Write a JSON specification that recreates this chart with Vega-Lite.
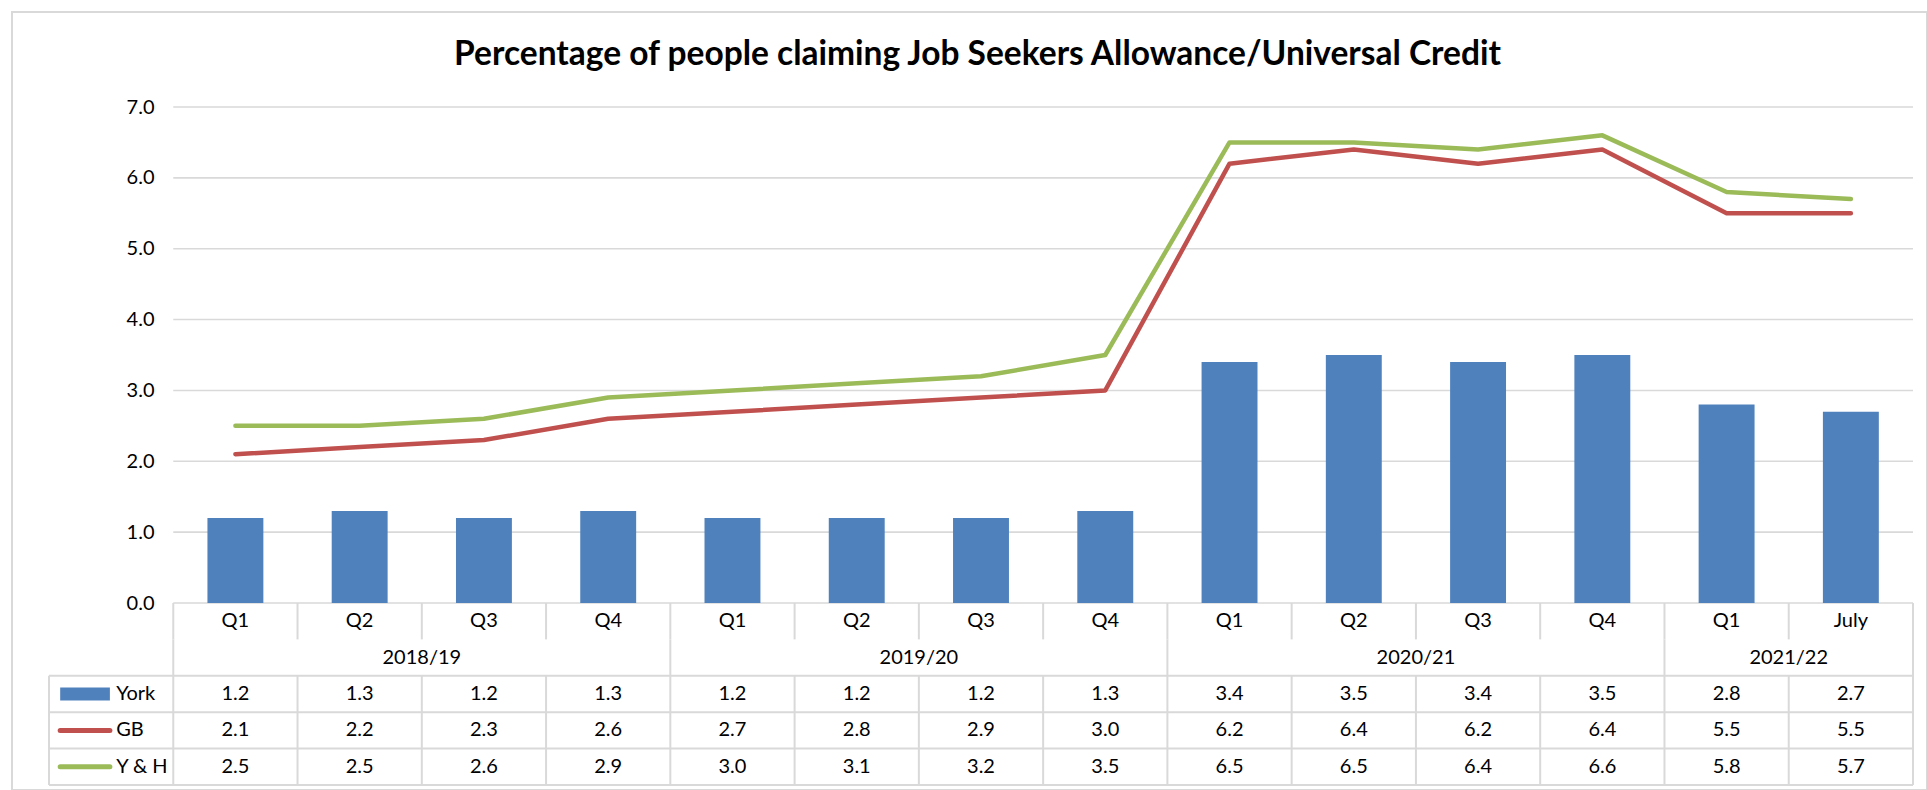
{
  "$schema": "https://vega.github.io/schema/vega-lite/v6.json",
  "width": 1915,
  "height": 778,
  "autosize": {"type": "none"},
  "padding": {"left": 12, "top": 12, "right": 0, "bottom": 0},
  "background": "white",
  "view": {"stroke": "#D9D9D9", "strokeWidth": 2},
  "config": {"font": "Lato", "text": {"font": "Lato", "fontSize": 20, "color": "black"}},
  "title": {
    "text": "Percentage of people claiming Job Seekers Allowance/Universal Credit",
    "font": "Lato", "fontSize": 33.5, "fontWeight": "bold", "color": "black",
    "anchor": "middle", "frame": "group", "offset": -86, "baseline": "alphabetic", "dx": 8
  },
  "datasets": {
    "d": [
      {"k":"2018/19 Q1","q":"Q1","York":1.2,"GB":2.1,"Y & H":2.5},
      {"k":"2018/19 Q2","q":"Q2","York":1.3,"GB":2.2,"Y & H":2.5},
      {"k":"2018/19 Q3","q":"Q3","York":1.2,"GB":2.3,"Y & H":2.6},
      {"k":"2018/19 Q4","q":"Q4","York":1.3,"GB":2.6,"Y & H":2.9},
      {"k":"2019/20 Q1","q":"Q1","York":1.2,"GB":2.7,"Y & H":3.0},
      {"k":"2019/20 Q2","q":"Q2","York":1.2,"GB":2.8,"Y & H":3.1},
      {"k":"2019/20 Q3","q":"Q3","York":1.2,"GB":2.9,"Y & H":3.2},
      {"k":"2019/20 Q4","q":"Q4","York":1.3,"GB":3.0,"Y & H":3.5},
      {"k":"2020/21 Q1","q":"Q1","York":3.4,"GB":6.2,"Y & H":6.5},
      {"k":"2020/21 Q2","q":"Q2","York":3.5,"GB":6.4,"Y & H":6.5},
      {"k":"2020/21 Q3","q":"Q3","York":3.4,"GB":6.2,"Y & H":6.4},
      {"k":"2020/21 Q4","q":"Q4","York":3.5,"GB":6.4,"Y & H":6.6},
      {"k":"2021/22 Q1","q":"Q1","York":2.8,"GB":5.5,"Y & H":5.8},
      {"k":"2021/22 July","q":"July","York":2.7,"GB":5.5,"Y & H":5.7}
    ],
    "years": [
      {"yr":"2018/19","m":"2018/19 Q3"},
      {"yr":"2019/20","m":"2019/20 Q3"},
      {"yr":"2020/21","m":"2020/21 Q3"},
      {"yr":"2021/22","m":"2021/22 July"}
    ],
    "grid": [
      {"v":0,"a":"2018/19 Q1","b":"2021/22 July"},
      {"v":1,"a":"2018/19 Q1","b":"2021/22 July"},
      {"v":2,"a":"2018/19 Q1","b":"2021/22 July"},
      {"v":3,"a":"2018/19 Q1","b":"2021/22 July"},
      {"v":4,"a":"2018/19 Q1","b":"2021/22 July"},
      {"v":5,"a":"2018/19 Q1","b":"2021/22 July"},
      {"v":6,"a":"2018/19 Q1","b":"2021/22 July"},
      {"v":7,"a":"2018/19 Q1","b":"2021/22 July"}
    ],
    "vl": [
      {"k":"2018/19 Q1","r1":"q","r2":"q"},
      {"k":"2018/19 Q2","r1":"q","r2":"q"},
      {"k":"2018/19 Q3","r1":"q","r2":"q"},
      {"k":"2018/19 Q4","r1":"q","r2":"q"},
      {"k":"2019/20 Q1","r1":"q","r2":"q"},
      {"k":"2019/20 Q2","r1":"q","r2":"q"},
      {"k":"2019/20 Q3","r1":"q","r2":"q"},
      {"k":"2019/20 Q4","r1":"q","r2":"q"},
      {"k":"2020/21 Q1","r1":"q","r2":"q"},
      {"k":"2020/21 Q2","r1":"q","r2":"q"},
      {"k":"2020/21 Q3","r1":"q","r2":"q"},
      {"k":"2020/21 Q4","r1":"q","r2":"q"},
      {"k":"2021/22 Q1","r1":"q","r2":"q"},
      {"k":"2021/22 July","r1":"q","r2":"q"},
      {"k":"2018/19 Q1","r1":"yr","r2":"yr"},
      {"k":"2019/20 Q1","r1":"yr","r2":"yr"},
      {"k":"2020/21 Q1","r1":"yr","r2":"yr"},
      {"k":"2021/22 Q1","r1":"yr","r2":"yr"},
      {"k":"legend","r1":"York","r2":"Y & H"},
      {"k":"2018/19 Q1","r1":"York","r2":"Y & H"},
      {"k":"2018/19 Q2","r1":"York","r2":"Y & H"},
      {"k":"2018/19 Q3","r1":"York","r2":"Y & H"},
      {"k":"2018/19 Q4","r1":"York","r2":"Y & H"},
      {"k":"2019/20 Q1","r1":"York","r2":"Y & H"},
      {"k":"2019/20 Q2","r1":"York","r2":"Y & H"},
      {"k":"2019/20 Q3","r1":"York","r2":"Y & H"},
      {"k":"2019/20 Q4","r1":"York","r2":"Y & H"},
      {"k":"2020/21 Q1","r1":"York","r2":"Y & H"},
      {"k":"2020/21 Q2","r1":"York","r2":"Y & H"},
      {"k":"2020/21 Q3","r1":"York","r2":"Y & H"},
      {"k":"2020/21 Q4","r1":"York","r2":"Y & H"},
      {"k":"2021/22 Q1","r1":"York","r2":"Y & H"},
      {"k":"2021/22 July","r1":"York","r2":"Y & H"}
    ],
    "edge": [{"k":"2021/22 July","r1":"q","r2":"Y & H"}],
    "hl": [
      {"r":"York","a":"legend","b":"2021/22 July"},
      {"r":"GB","a":"legend","b":"2021/22 July"},
      {"r":"Y & H","a":"legend","b":"2021/22 July"}
    ],
    "leg": [
      {"k":"legend","s":"York"},
      {"k":"legend","s":"GB"},
      {"k":"legend","s":"Y & H"}
    ]
  },
  "layer": [
    {
      "layer": [
        {
          "data": {"name": "grid"},
          "mark": {"type": "rule", "color": "#D9D9D9", "strokeWidth": 1.6},
          "encoding": {
            "y": {"field": "v", "type": "quantitative", "title": null,
                  "scale": {"domain": [0, 7], "range": [591, 95], "nice": false, "zero": false},
                  "axis": {"values": [0,1,2,3,4,5,6,7], "format": ".1f", "grid": false, "domain": false, "ticks": false, "tickSize": 0, "labelPadding": 0, "offset": -142, "labelFont": "Lato", "labelFontSize": 20, "labelColor": "black", "title": null}},
            "x": {"field": "a", "type": "nominal", "bandPosition": 0,
                  "scale": {"domain": ["legend","2018/19 Q1","2018/19 Q2","2018/19 Q3","2018/19 Q4","2019/20 Q1","2019/20 Q2","2019/20 Q3","2019/20 Q4","2020/21 Q1","2020/21 Q2","2020/21 Q3","2020/21 Q4","2021/22 Q1","2021/22 July"], "range": [37, 1901], "paddingInner": 0, "paddingOuter": 0},
                  "axis": null},
            "x2": {"field": "b", "bandPosition": 1}
          }
        },
        {
          "data": {"name": "d"},
          "mark": {"type": "bar", "color": "#4F81BD", "width": {"band": 0.45}},
          "encoding": {
            "x": {"field": "k", "type": "nominal",
                  "scale": {"domain": ["legend","2018/19 Q1","2018/19 Q2","2018/19 Q3","2018/19 Q4","2019/20 Q1","2019/20 Q2","2019/20 Q3","2019/20 Q4","2020/21 Q1","2020/21 Q2","2020/21 Q3","2020/21 Q4","2021/22 Q1","2021/22 July"], "range": [37, 1901], "paddingInner": 0, "paddingOuter": 0},
                  "axis": null},
            "y": {"field": "York", "type": "quantitative", "title": null,
                  "scale": {"domain": [0, 7], "range": [591, 95], "nice": false, "zero": false}}
          }
        },
        {
          "data": {"name": "d"},
          "transform": [{"fold": ["GB", "Y & H"], "as": ["s", "v"]}],
          "mark": {"type": "line", "strokeWidth": 4.5, "strokeCap": "round", "strokeJoin": "round"},
          "encoding": {
            "x": {"field": "k", "type": "nominal",
                  "scale": {"domain": ["legend","2018/19 Q1","2018/19 Q2","2018/19 Q3","2018/19 Q4","2019/20 Q1","2019/20 Q2","2019/20 Q3","2019/20 Q4","2020/21 Q1","2020/21 Q2","2020/21 Q3","2020/21 Q4","2021/22 Q1","2021/22 July"], "range": [37, 1901], "paddingInner": 0, "paddingOuter": 0},
                  "axis": null},
            "y": {"field": "v", "type": "quantitative", "title": null,
                  "scale": {"domain": [0, 7], "range": [591, 95], "nice": false, "zero": false}},
            "color": {"field": "s", "type": "nominal", "legend": null,
                      "scale": {"domain": ["York", "GB", "Y & H"], "range": ["#4F81BD", "#C0504D", "#9BBB59"]}}
          }
        }
      ]
    },
    {
      "layer": [
        {
          "data": {"name": "vl"},
          "mark": {"type": "rule", "color": "#D9D9D9", "strokeWidth": 2},
          "encoding": {
            "x": {"field": "k", "type": "nominal", "bandPosition": 0,
                  "scale": {"domain": ["legend","2018/19 Q1","2018/19 Q2","2018/19 Q3","2018/19 Q4","2019/20 Q1","2019/20 Q2","2019/20 Q3","2019/20 Q4","2020/21 Q1","2020/21 Q2","2020/21 Q3","2020/21 Q4","2021/22 Q1","2021/22 July"], "range": [37, 1901], "paddingInner": 0, "paddingOuter": 0},
                  "axis": null},
            "y": {"field": "r1", "type": "nominal", "bandPosition": 0,
                  "scale": {"domain": ["q", "yr", "York", "GB", "Y & H"], "range": [591, 773], "paddingInner": 0, "paddingOuter": 0},
                  "axis": null},
            "y2": {"field": "r2", "bandPosition": 1}
          }
        },
        {
          "data": {"name": "edge"},
          "mark": {"type": "rule", "color": "#D9D9D9", "strokeWidth": 2},
          "encoding": {
            "x": {"field": "k", "type": "nominal", "bandPosition": 1,
                  "scale": {"domain": ["legend","2018/19 Q1","2018/19 Q2","2018/19 Q3","2018/19 Q4","2019/20 Q1","2019/20 Q2","2019/20 Q3","2019/20 Q4","2020/21 Q1","2020/21 Q2","2020/21 Q3","2020/21 Q4","2021/22 Q1","2021/22 July"], "range": [37, 1901], "paddingInner": 0, "paddingOuter": 0},
                  "axis": null},
            "y": {"field": "r1", "type": "nominal", "bandPosition": 0,
                  "scale": {"domain": ["q", "yr", "York", "GB", "Y & H"], "range": [591, 773], "paddingInner": 0, "paddingOuter": 0},
                  "axis": null},
            "y2": {"field": "r2", "bandPosition": 1}
          }
        },
        {
          "data": {"name": "hl"},
          "mark": {"type": "rule", "color": "#D9D9D9", "strokeWidth": 2},
          "encoding": {
            "x": {"field": "a", "type": "nominal", "bandPosition": 0,
                  "scale": {"domain": ["legend","2018/19 Q1","2018/19 Q2","2018/19 Q3","2018/19 Q4","2019/20 Q1","2019/20 Q2","2019/20 Q3","2019/20 Q4","2020/21 Q1","2020/21 Q2","2020/21 Q3","2020/21 Q4","2021/22 Q1","2021/22 July"], "range": [37, 1901], "paddingInner": 0, "paddingOuter": 0},
                  "axis": null},
            "x2": {"field": "b", "bandPosition": 1},
            "y": {"field": "r", "type": "nominal", "bandPosition": 0,
                  "scale": {"domain": ["q", "yr", "York", "GB", "Y & H"], "range": [591, 773], "paddingInner": 0, "paddingOuter": 0},
                  "axis": null}
          }
        },
        {
          "data": {"name": "hl"},
          "transform": [{"filter": {"field": "r", "equal": "Y & H"}}],
          "mark": {"type": "rule", "color": "#D9D9D9", "strokeWidth": 2},
          "encoding": {
            "x": {"field": "a", "type": "nominal", "bandPosition": 0,
                  "scale": {"domain": ["legend","2018/19 Q1","2018/19 Q2","2018/19 Q3","2018/19 Q4","2019/20 Q1","2019/20 Q2","2019/20 Q3","2019/20 Q4","2020/21 Q1","2020/21 Q2","2020/21 Q3","2020/21 Q4","2021/22 Q1","2021/22 July"], "range": [37, 1901], "paddingInner": 0, "paddingOuter": 0},
                  "axis": null},
            "x2": {"field": "b", "bandPosition": 1},
            "y": {"field": "r", "type": "nominal", "bandPosition": 1,
                  "scale": {"domain": ["q", "yr", "York", "GB", "Y & H"], "range": [591, 773], "paddingInner": 0, "paddingOuter": 0},
                  "axis": null}
          }
        },
        {
          "data": {"name": "d"},
          "mark": {"type": "text", "fontSize": 20, "color": "black"},
          "encoding": {
            "x": {"field": "k", "type": "nominal",
                  "scale": {"domain": ["legend","2018/19 Q1","2018/19 Q2","2018/19 Q3","2018/19 Q4","2019/20 Q1","2019/20 Q2","2019/20 Q3","2019/20 Q4","2020/21 Q1","2020/21 Q2","2020/21 Q3","2020/21 Q4","2021/22 Q1","2021/22 July"], "range": [37, 1901], "paddingInner": 0, "paddingOuter": 0},
                  "axis": null},
            "y": {"datum": "q", "type": "nominal",
                  "scale": {"domain": ["q", "yr", "York", "GB", "Y & H"], "range": [591, 773], "paddingInner": 0, "paddingOuter": 0},
                  "axis": null},
            "text": {"field": "q"}
          }
        },
        {
          "data": {"name": "years"},
          "mark": {"type": "text", "fontSize": 20, "color": "black"},
          "encoding": {
            "x": {"field": "m", "type": "nominal", "bandPosition": 0,
                  "scale": {"domain": ["legend","2018/19 Q1","2018/19 Q2","2018/19 Q3","2018/19 Q4","2019/20 Q1","2019/20 Q2","2019/20 Q3","2019/20 Q4","2020/21 Q1","2020/21 Q2","2020/21 Q3","2020/21 Q4","2021/22 Q1","2021/22 July"], "range": [37, 1901], "paddingInner": 0, "paddingOuter": 0},
                  "axis": null},
            "y": {"datum": "yr", "type": "nominal",
                  "scale": {"domain": ["q", "yr", "York", "GB", "Y & H"], "range": [591, 773], "paddingInner": 0, "paddingOuter": 0},
                  "axis": null},
            "text": {"field": "yr"}
          }
        },
        {
          "data": {"name": "d"},
          "transform": [{"fold": ["York", "GB", "Y & H"], "as": ["s", "v"]}],
          "mark": {"type": "text", "fontSize": 20, "color": "black"},
          "encoding": {
            "x": {"field": "k", "type": "nominal",
                  "scale": {"domain": ["legend","2018/19 Q1","2018/19 Q2","2018/19 Q3","2018/19 Q4","2019/20 Q1","2019/20 Q2","2019/20 Q3","2019/20 Q4","2020/21 Q1","2020/21 Q2","2020/21 Q3","2020/21 Q4","2021/22 Q1","2021/22 July"], "range": [37, 1901], "paddingInner": 0, "paddingOuter": 0},
                  "axis": null},
            "y": {"field": "s", "type": "nominal",
                  "scale": {"domain": ["q", "yr", "York", "GB", "Y & H"], "range": [591, 773], "paddingInner": 0, "paddingOuter": 0},
                  "axis": null},
            "text": {"field": "v", "type": "quantitative", "format": ".1f"}
          }
        },
        {
          "data": {"name": "leg"},
          "mark": {"type": "text", "fontSize": 20, "color": "black", "align": "left", "dx": 5},
          "encoding": {
            "x": {"field": "k", "type": "nominal",
                  "scale": {"domain": ["legend","2018/19 Q1","2018/19 Q2","2018/19 Q3","2018/19 Q4","2019/20 Q1","2019/20 Q2","2019/20 Q3","2019/20 Q4","2020/21 Q1","2020/21 Q2","2020/21 Q3","2020/21 Q4","2021/22 Q1","2021/22 July"], "range": [37, 1901], "paddingInner": 0, "paddingOuter": 0},
                  "axis": null},
            "y": {"field": "s", "type": "nominal",
                  "scale": {"domain": ["q", "yr", "York", "GB", "Y & H"], "range": [591, 773], "paddingInner": 0, "paddingOuter": 0},
                  "axis": null},
            "text": {"field": "s"}
          }
        },
        {
          "data": {"name": "leg"},
          "transform": [{"filter": {"field": "s", "equal": "York"}}],
          "mark": {"type": "rule", "color": "#4F81BD", "strokeWidth": 13, "strokeCap": "butt"},
          "encoding": {
            "x": {"field": "k", "type": "nominal", "bandPosition": 0.09,
                  "scale": {"domain": ["legend","2018/19 Q1","2018/19 Q2","2018/19 Q3","2018/19 Q4","2019/20 Q1","2019/20 Q2","2019/20 Q3","2019/20 Q4","2020/21 Q1","2020/21 Q2","2020/21 Q3","2020/21 Q4","2021/22 Q1","2021/22 July"], "range": [37, 1901], "paddingInner": 0, "paddingOuter": 0},
                  "axis": null},
            "x2": {"field": "k", "bandPosition": 0.49},
            "y": {"field": "s", "type": "nominal",
                  "scale": {"domain": ["q", "yr", "York", "GB", "Y & H"], "range": [591, 773], "paddingInner": 0, "paddingOuter": 0},
                  "axis": null}
          }
        },
        {
          "data": {"name": "leg"},
          "transform": [{"filter": {"field": "s", "oneOf": ["GB", "Y & H"]}}],
          "mark": {"type": "rule", "strokeWidth": 5, "strokeCap": "round"},
          "encoding": {
            "x": {"field": "k", "type": "nominal", "bandPosition": 0.09,
                  "scale": {"domain": ["legend","2018/19 Q1","2018/19 Q2","2018/19 Q3","2018/19 Q4","2019/20 Q1","2019/20 Q2","2019/20 Q3","2019/20 Q4","2020/21 Q1","2020/21 Q2","2020/21 Q3","2020/21 Q4","2021/22 Q1","2021/22 July"], "range": [37, 1901], "paddingInner": 0, "paddingOuter": 0},
                  "axis": null},
            "x2": {"field": "k", "bandPosition": 0.49},
            "y": {"field": "s", "type": "nominal",
                  "scale": {"domain": ["q", "yr", "York", "GB", "Y & H"], "range": [591, 773], "paddingInner": 0, "paddingOuter": 0},
                  "axis": null},
            "color": {"field": "s", "type": "nominal", "legend": null,
                      "scale": {"domain": ["York", "GB", "Y & H"], "range": ["#4F81BD", "#C0504D", "#9BBB59"]}}
          }
        }
      ]
    }
  ],
  "resolve": {"scale": {"y": "independent"}}
}
